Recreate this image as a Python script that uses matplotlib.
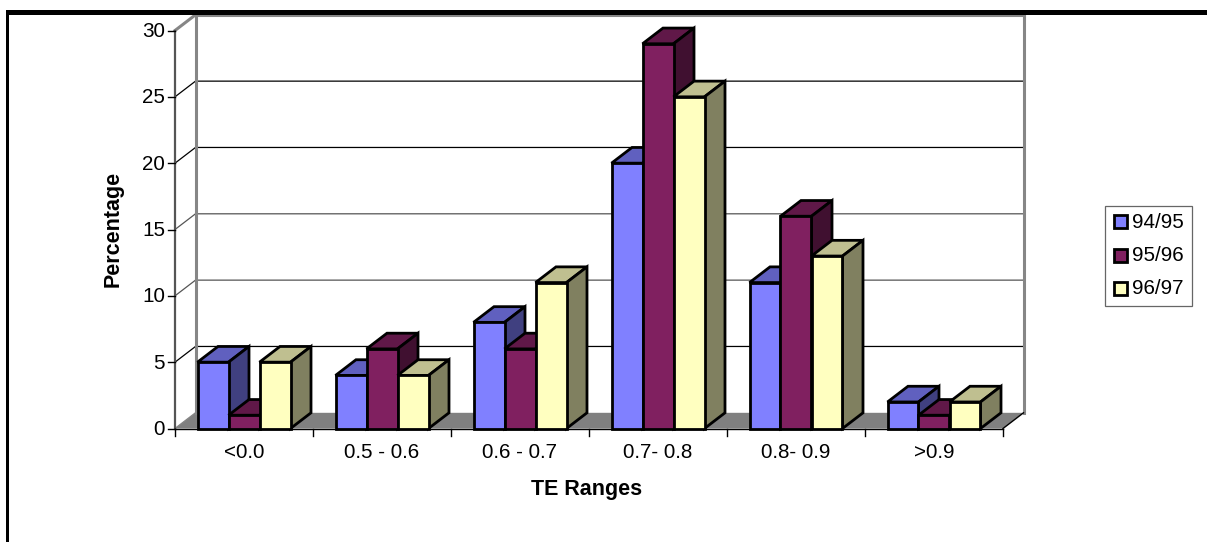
import matplotlib
matplotlib.use('Agg')
import matplotlib.pyplot as plt
from matplotlib.patches import Polygon, Rectangle

#Chart values
categories = ['<0.0', '0.5 - 0.6', '0.6 - 0.7', '0.7- 0.8', '0.8- 0.9', '>0.9']
seasons = ['94/95', '95/96', '96/97']
values_9495 = [5, 4, 8, 20, 11, 2]
values_9596 = [1, 6, 6, 29, 16, 1]
values_9697 = [5, 4, 11, 25, 13, 2]
y_ticks = [0, 5, 10, 15, 20, 25, 30]

series = [values_9495, values_9596, values_9697]
front_colors = ['#8080FF', '#802060', '#FFFFC0']
top_colors = ['#6060BF', '#601848', '#BFBF90']
side_colors = ['#404080', '#401030', '#808060']

W, H = 1207, 542
plt.rcParams['font.family'] = ['Liberation Sans', 'DejaVu Sans']

fig = plt.figure(figsize=(W / 100, H / 100), dpi=100)

#Axes box is the front plane of the 3D chart, everything else is drawn unclipped
left, right, bottom, top = 175, 1003, 428.5, 30.5
ax = fig.add_axes([left / W, 1 - bottom / H, (right - left) / W, (bottom - top) / H])
ax.set_xlim(0, 6)
ax.set_ylim(0, 30)
ax.axis('off')

#Depth of the 3D effect in data units
dx = 20.5 / 138
dy = 15.7 / 13.27

bar_w = 31 / 138
gap = (1 - 3 * bar_w) / 2

#Floor
ax.add_patch(Polygon([(0, 0), (6, 0), (6 + dx, dy), (dx, dy)], closed=True,
                     facecolor='#808080', edgecolor='none', clip_on=False, zorder=1))

#Gridlines on the walls, skip the 30 line which is the wall frame
grid_colors = {5: 'black', 10: '#555555', 15: '#555555', 20: 'black', 25: 'black'}
for v in y_ticks[1:-1]:
    ax.plot([0, dx, 6 + dx], [v, v + dy, v + dy], color=grid_colors[v], lw=0.9,
            clip_on=False, zorder=2, solid_joinstyle='miter')

#Wall frame
wall_grey = '#868686'
ax.plot([dx, dx], [dy, 30 + dy], color=wall_grey, lw=2.2, clip_on=False, zorder=3)
ax.plot([6 + dx, 6 + dx], [dy, 30 + dy], color=wall_grey, lw=2.2, clip_on=False, zorder=3)
ax.plot([dx, 6 + dx], [30 + dy, 30 + dy], color=wall_grey, lw=2.2, clip_on=False, zorder=3)
ax.plot([0, dx], [30, 30 + dy], color=wall_grey, lw=2.2, clip_on=False, zorder=3)
ax.plot([0, dx], [0, dy], color=wall_grey, lw=1, clip_on=False, zorder=3)
ax.plot([6, 6 + dx], [0, dy], color='black', lw=1, clip_on=False, zorder=3)

#Axis lines and ticks
ax.plot([0, 0], [0, 30], color='#555555', lw=1.6, clip_on=False, zorder=4)
ax.plot([0, 6], [0, 0], color='black', lw=1, clip_on=False, zorder=4)
for i in range(7):
    ax.plot([i, i], [0, -0.55], color='black', lw=1, clip_on=False, zorder=4)
for v in y_ticks:
    ax.plot([-0.05, 0], [v, v], color='black', lw=1, clip_on=False, zorder=4)
    ax.annotate(str(v), (0, v), xytext=(-10, -1), textcoords='offset pixels', ha='right',
                va='center', fontsize=14.9, color='black', annotation_clip=False)

#Bars, left to right so later bars cover the side of the earlier one
edge = dict(edgecolor='black', lw=2.0, joinstyle='miter', clip_on=False)
for i in range(len(categories)):
    for j in range(3):
        x0 = i + gap + j * bar_w
        x1 = x0 + bar_w
        h = series[j][i]
        z = 5 + i * 3 + j
        ax.add_patch(Polygon([(x0, h), (x1, h), (x1 + dx, h + dy), (x0 + dx, h + dy)],
                             closed=True, facecolor=top_colors[j], zorder=z, **edge))
        ax.add_patch(Polygon([(x1, 0), (x1 + dx, dy), (x1 + dx, h + dy), (x1, h)],
                             closed=True, facecolor=side_colors[j], zorder=z, **edge))
        ax.add_patch(Polygon([(x0, 0), (x1, 0), (x1, h), (x0, h)],
                             closed=True, facecolor=front_colors[j], zorder=z, **edge))

#Category labels
for i, cat in enumerate(categories):
    ax.annotate(cat, (i + 0.5, 0), xytext=(0, -24), textcoords='offset pixels', ha='center',
                va='center', fontsize=14.9, annotation_clip=False)


def px(x, y):
    return x / W, 1 - y / H


fig.text(*px(586.5, 490), 'TE Ranges', ha='center', va='center', fontsize=15.5, fontweight='bold')
fig.text(*px(113, 229), 'Percentage', ha='center', va='center', rotation=90, fontsize=15.5,
         fontweight='bold')

#Legend
fig.add_artist(Rectangle(px(1104.5, 305.5), 87 / W, 100 / H, transform=fig.transFigure,
                         facecolor='white', edgecolor='#666666', lw=0.9))
for j, name in enumerate(seasons):
    yc = 221.5 + j * 33.5
    fig.add_artist(Rectangle(px(1113.5, yc + 6.5), 13 / W, 13 / H, transform=fig.transFigure,
                             facecolor=front_colors[j], edgecolor='black', lw=2.0))
    fig.text(*px(1132, yc + 0.5), name, ha='left', va='center', fontsize=14.9)

#Black border at the top and left
fig.add_artist(Rectangle(px(6, 542), 3 / W, 532 / H, transform=fig.transFigure,
                         facecolor='black', edgecolor='none'))
fig.add_artist(Rectangle(px(6, 15), (W - 6) / W, 5 / H, transform=fig.transFigure,
                         facecolor='black', edgecolor='none', zorder=50))

fig.savefig('out.png', dpi=100)
